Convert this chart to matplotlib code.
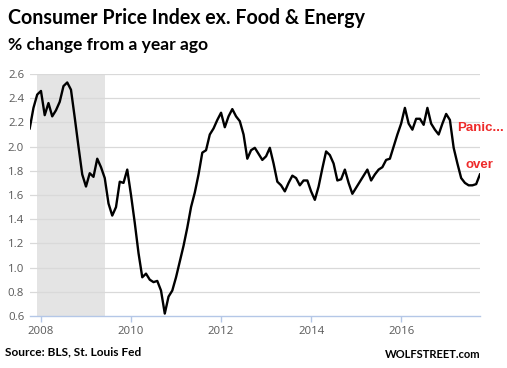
import numpy as np
import matplotlib.pyplot as plt

# core CPI, % change yoy, monthly Oct 2007 .. Oct 2017
start_year = 2007.75
cpi = [2.15, 2.32, 2.43,
       2.46, 2.26, 2.36, 2.25, 2.30, 2.37, 2.50, 2.53, 2.47, 2.24, 2.00, 1.77,
       1.67, 1.78, 1.75, 1.90, 1.83, 1.74, 1.53, 1.43, 1.50, 1.71, 1.70, 1.81,
       1.60, 1.37, 1.12, 0.92, 0.95, 0.90, 0.88, 0.89, 0.81, 0.62, 0.76, 0.81,
       0.92, 1.05, 1.18, 1.33, 1.50, 1.62, 1.77, 1.95, 1.97, 2.10, 2.15, 2.22,
       2.28, 2.16, 2.25, 2.31, 2.25, 2.21, 2.10, 1.90, 1.97, 1.99, 1.94, 1.89,
       1.92, 1.99, 1.86, 1.71, 1.68, 1.63, 1.70, 1.76, 1.74, 1.68, 1.72, 1.72,
       1.63, 1.56, 1.67, 1.82, 1.96, 1.93, 1.86, 1.72, 1.73, 1.81, 1.70, 1.61,
       1.66, 1.71, 1.76, 1.81, 1.72, 1.77, 1.81, 1.83, 1.89, 1.90, 2.00, 2.10,
       2.19, 2.32, 2.19, 2.14, 2.23, 2.23, 2.18, 2.32, 2.19, 2.14, 2.10, 2.19,
       2.27, 2.22, 1.99, 1.86, 1.74, 1.70, 1.68, 1.68, 1.69, 1.77]
recession = (2007.92, 2009.42)
years = [2008, 2010, 2012, 2014, 2016]
yticks = [0.6, 0.8, 1.0, 1.2, 1.4, 1.6, 1.8, 2.0, 2.2, 2.4, 2.6]

t = start_year + np.arange(len(cpi)) / 12.0

fig = plt.figure(figsize=(5.07, 3.68), dpi=100)
ax = fig.add_axes([0.0586, 0.1413, 0.888, 0.6576])

ax.axvspan(recession[0], recession[1], color='#e4e4e4', lw=0, zorder=0)
for v in yticks[1:]:
    ax.axhline(v, color='#d9d9d9', lw=0.9, zorder=1)
ax.plot(t, cpi, color='black', lw=1.7, zorder=3)

ax.set_xlim(t[0], t[-1])
ax.set_ylim(0.6, 2.6)
ax.set_xticks(years)
ax.set_xticklabels([str(y) for y in years])
ax.set_yticks(yticks)
ax.set_yticklabels(['%.1f' % v for v in yticks])
for s in ['left', 'right', 'top']:
    ax.spines[s].set_visible(False)
ax.spines['bottom'].set_color('#b4c7e7')
ax.spines['bottom'].set_linewidth(1.0)
ax.tick_params(axis='x', colors='#b4c7e7', length=4, width=1, labelcolor='#595959',
               labelsize=8.2, pad=3)
ax.tick_params(axis='y', length=0, labelcolor='#595959', labelsize=8.2, pad=4)
for lab in ax.get_xticklabels() + ax.get_yticklabels():
    lab.set_family('Open Sans')

fig.text(8 / 507, 1 - 18 / 368, 'Consumer Price Index ex. Food & Energy',
         family='Lato', weight='bold', fontsize=14.1, va='center', ha='left')
fig.text(8 / 507, 1 - 45 / 368, '% change from a year ago',
         family='Lato', weight='bold', fontsize=12.6, va='center', ha='left')
fig.text(457 / 507, 1 - 128 / 368, 'Panic...', family='Liberation Sans',
         weight='bold', color='#ee2a2a', fontsize=9.5, va='center', ha='left')
fig.text(465 / 507, 1 - 165 / 368, 'over', family='Liberation Sans',
         weight='bold', color='#ee2a2a', fontsize=9.5, va='center', ha='left')
fig.text(5 / 507, 1 - 352 / 368, 'Source: BLS, St. Louis Fed',
         family='Lato', weight='bold', fontsize=8.6, va='center', ha='left')
fig.text(385 / 507, 1 - 354 / 368, 'WOLFSTREET.com',
         family='Lato', weight='bold', fontsize=8, va='center', ha='left')

fig.savefig('out.png', dpi=100)
